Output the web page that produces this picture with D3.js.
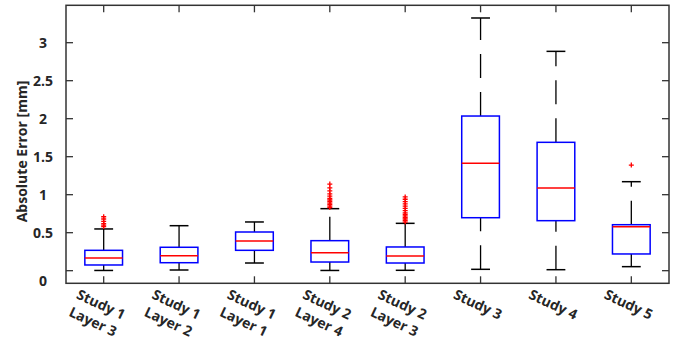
<!DOCTYPE html>
<html>
<head>
<meta charset="utf-8">
<script src="https://cdn.jsdelivr.net/npm/d3@7/dist/d3.min.js"></script>
<style>
  html, body { margin: 0; padding: 0; background: #fff; }
  text { font-family: "Open Sans", "DejaVu Sans", sans-serif; }
</style>
</head>
<body>
<svg id="chart" width="675" height="337"></svg>
<script>
// ---- data ----
const categories = ["Study 1\nLayer 3", "Study 1\nLayer 2", "Study 1\nLayer 1", "Study 2\nLayer 4", "Study 2\nLayer 3", "Study 3", "Study 4", "Study 5"];
const lowerWhisker = [0.003, 0.009, 0.101, 0.003, 0.005, 0.018, 0.013, 0.053];
const q1Values     = [0.075, 0.105, 0.268, 0.114, 0.101, 0.697, 0.658, 0.220];
const medianValues = [0.167, 0.197, 0.391, 0.237, 0.193, 1.413, 1.088, 0.579];
const q3Values     = [0.268, 0.308, 0.509, 0.395, 0.312, 2.035, 1.689, 0.605];
const upperWhisker = [0.549, 0.592, 0.641, 0.816, 0.623, 3.325, 2.886, 1.171];
const outliers = [
  [0.58, 0.60, 0.62, 0.65, 0.68, 0.71],
  [],
  [],
  [0.83, 0.85, 0.87, 0.89, 0.91, 0.93, 0.95, 0.98, 1.01, 1.05, 1.09, 1.14],
  [0.64, 0.66, 0.68, 0.70, 0.72, 0.74, 0.76, 0.79, 0.82, 0.85, 0.88, 0.91, 0.94, 0.97],
  [],
  [],
  [1.39]
];
const yTicks = [0, 0.5, 1, 1.5, 2, 2.5, 3];
const yTickLabels = ["0", "0.5", "1", "1.5", "2", "2.5", "3"];
const yLabel = "Absolute Error [mm]";
const yDomain = [-0.166, 3.492];

// ---- layout ----
const svg = d3.select("#chart");
const L = 66, R = 669, T = 5.3, B = 283.3;
const axisColor = "#333333";
const textColor = "#262626";

const x = d3.scaleBand().domain(d3.range(categories.length)).range([L, R]).padding(0);
const y = d3.scaleLinear().domain(yDomain).range([B, T]);
const cx = i => x(i) + x.bandwidth() / 2;
const boxW = x.bandwidth() * 0.5;
const capW = boxW * 0.5;

const g = svg.append("g");

categories.forEach((c, i) => {
  g.append("line")
    .attr("x1", cx(i)).attr("x2", cx(i))
    .attr("y1", y(q3Values[i])).attr("y2", y(upperWhisker[i]))
    .attr("stroke", "#000").attr("stroke-width", 1.3)
    .attr("stroke-dasharray", "24,14");
  g.append("line")
    .attr("x1", cx(i)).attr("x2", cx(i))
    .attr("y1", y(lowerWhisker[i])).attr("y2", y(q1Values[i]))
    .attr("stroke", "#000").attr("stroke-width", 1.3)
    .attr("stroke-dasharray", "24,14");
  [upperWhisker[i], lowerWhisker[i]].forEach(v => {
    g.append("line")
      .attr("x1", cx(i) - capW / 2).attr("x2", cx(i) + capW / 2)
      .attr("y1", y(v)).attr("y2", y(v))
      .attr("stroke", "#000").attr("stroke-width", 1.5);
  });
  g.append("rect")
    .attr("x", cx(i) - boxW / 2).attr("width", boxW)
    .attr("y", y(q3Values[i])).attr("height", y(q1Values[i]) - y(q3Values[i]))
    .attr("fill", "none").attr("stroke", "#0000ff").attr("stroke-width", 1.5);
  g.append("line")
    .attr("x1", cx(i) - boxW / 2).attr("x2", cx(i) + boxW / 2)
    .attr("y1", y(medianValues[i])).attr("y2", y(medianValues[i]))
    .attr("stroke", "#ff0000").attr("stroke-width", 1.5);
  outliers[i].forEach(v => {
    const px = cx(i), py = y(v), s = 2.5;
    g.append("path")
      .attr("d", `M${px - s},${py}H${px + s}M${px},${py - s}V${py + s}`)
      .attr("stroke", "#ff0000").attr("stroke-width", 1.3).attr("fill", "none");
  });
});

// ---- axes ----
const tickLen = 7;
const axG = svg.append("g");
axG.append("rect")
  .attr("x", L).attr("y", T).attr("width", R - L).attr("height", B - T)
  .attr("fill", "none").attr("stroke", axisColor).attr("stroke-width", 1.5);

categories.forEach((c, i) => {
  axG.append("line").attr("x1", cx(i)).attr("x2", cx(i)).attr("y1", B).attr("y2", B - tickLen)
    .attr("stroke", axisColor).attr("stroke-width", 1.3);
  axG.append("line").attr("x1", cx(i)).attr("x2", cx(i)).attr("y1", T).attr("y2", T + tickLen)
    .attr("stroke", axisColor).attr("stroke-width", 1.3);
  const lines = c.split("\n");
  const tg = axG.append("g")
    .attr("transform", `translate(${cx(i) - 2.5},${304}) rotate(25)`);
  lines.forEach((ln, k) => {
    tg.append("text")
      .attr("x", 0).attr("y", k * 19)
      .attr("text-anchor", "middle").attr("dominant-baseline", "central")
      .attr("font-size", 14).attr("font-weight", "bold").attr("fill", textColor)
      .text(ln);
  });
});

yTicks.forEach((v, k) => {
  axG.append("line").attr("x1", L).attr("x2", L + tickLen).attr("y1", y(v)).attr("y2", y(v))
    .attr("stroke", axisColor).attr("stroke-width", 1.3);
  axG.append("line").attr("x1", R).attr("x2", R - tickLen).attr("y1", y(v)).attr("y2", y(v))
    .attr("stroke", axisColor).attr("stroke-width", 1.3);
  axG.append("text")
    .attr("x", 43).attr("y", y(v) + (v === 0 ? 10 : 0))
    .attr("text-anchor", "middle").attr("dominant-baseline", "central")
    .attr("font-size", 14).attr("font-weight", "bold").attr("fill", textColor)
    .text(yTickLabels[k]);
});

svg.append("text")
  .attr("transform", `translate(21,151.5) rotate(-90)`)
  .attr("text-anchor", "middle").attr("dominant-baseline", "central")
  .attr("font-size", 14).attr("font-weight", "bold").attr("fill", textColor)
  .text(yLabel);
</script>
</body>
</html>
